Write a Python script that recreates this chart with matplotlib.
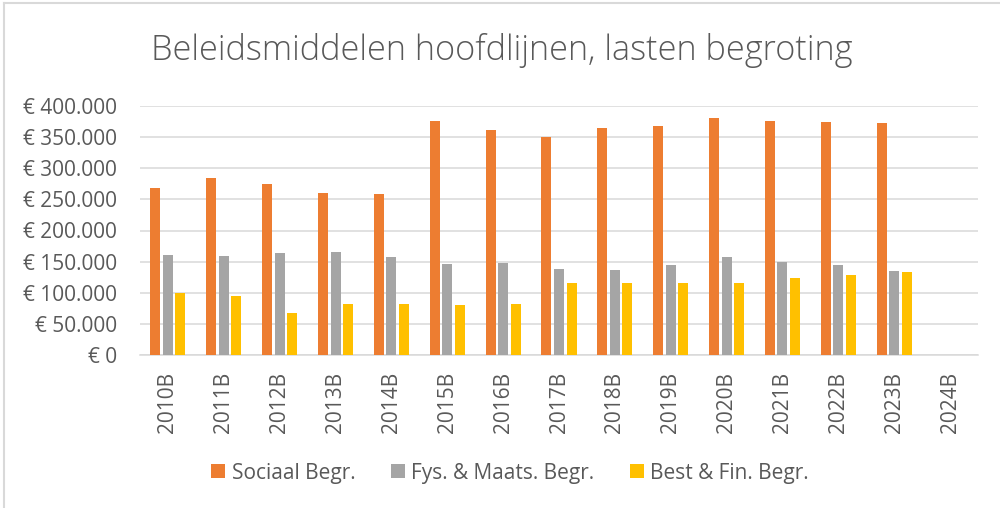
import matplotlib
matplotlib.use("Agg")
import matplotlib.pyplot as plt
from matplotlib.lines import Line2D
import numpy as np

categories = ["2010B", "2011B", "2012B", "2013B", "2014B", "2015B", "2016B", "2017B",
              "2018B", "2019B", "2020B", "2021B", "2022B", "2023B", "2024B"]
series_names = ["Sociaal Begr.", "Fys. & Maats. Begr.", "Best & Fin. Begr."]
sociaal = [268000, 284000, 274000, 261000, 259000, 376000, 361000, 351000,
           364000, 368000, 381000, 376000, 374000, 372000, np.nan]
fysiek = [160000, 159000, 164000, 165000, 158000, 146000, 148000, 138000,
          137000, 144000, 158000, 150000, 144000, 135000, np.nan]
bestuur = [99000, 94000, 67000, 82000, 82000, 80000, 82000, 115000,
           116000, 115000, 116000, 124000, 128000, 134000, np.nan]
yticks = [0, 50000, 100000, 150000, 200000, 250000, 300000, 350000, 400000]
ytick_labels = ["€ 0", "€ 50.000", "€ 100.000", "€ 150.000", "€ 200.000",
                "€ 250.000", "€ 300.000", "€ 350.000", "€ 400.000"]
title = "Beleidsmiddelen hoofdlijnen, lasten begroting"

colors = ["#ED7D31", "#A5A5A5", "#FFC000"]
text_color = "#595959"
grid_color = "#D9D9D9"
font = ["Open Sans", "DejaVu Sans"]
plt.rcParams["font.family"] = font

W, H = 1000, 508
fig = plt.figure(figsize=(W / 100, H / 100), dpi=100)
ax = fig.add_axes([140 / W, 1 - 355 / H, (978 - 140) / W, (355 - 106) / H])

x = np.arange(len(categories))
bw = 0.179
pitch = 0.224
for i, (vals, name) in enumerate(zip([sociaal, fysiek, bestuur], series_names)):
    ax.bar(x + (i - 1) * pitch, vals, width=bw, color=colors[i], label=name, zorder=3)

ax.set_xlim(-0.5, len(categories) - 0.5)
ax.set_ylim(0, 400000)
ax.set_yticks(yticks)
ax.set_yticklabels(ytick_labels)
ax.set_xticks(x)
ax.set_xticklabels(categories, rotation=90)
ax.tick_params(axis="both", length=0, labelsize=15, colors=text_color)
ax.tick_params(axis="y", pad=16.5)
ax.tick_params(axis="x", pad=12)
for lbl in ax.get_xticklabels():
    lbl.set_va("top")
ax.yaxis.grid(True, color=grid_color, linewidth=1.1, zorder=0)
ax.set_axisbelow(True)
for s in ["top", "right", "left"]:
    ax.spines[s].set_visible(False)
ax.spines["bottom"].set_color(grid_color)
ax.spines["bottom"].set_linewidth(1.1)

# title, fitted to the reference width
t = fig.text(0.502, 1 - 51 / H, title, ha="center", va="center",
             fontsize=24, color=text_color, family=font, fontweight="light")
fig.canvas.draw()
w = t.get_window_extent().width
t.set_fontsize(24 * 705 / w)

leg = fig.legend(loc="center", bbox_to_anchor=(510 / W, 1 - 473 / H), ncol=3,
                 frameon=False, fontsize=15, handlelength=0.68, handleheight=0.68,
                 handletextpad=0.3, columnspacing=1.7, labelcolor=text_color)

# chart border
fig.add_artist(Line2D([4 / W, 4 / W], [0, 1 - 3 / H], color=grid_color, lw=1.5,
                      transform=fig.transFigure))
fig.add_artist(Line2D([4 / W, 1], [1 - 3 / H, 1 - 3 / H], color=grid_color, lw=1.5,
                      transform=fig.transFigure))

fig.savefig("out.png", dpi=100)
